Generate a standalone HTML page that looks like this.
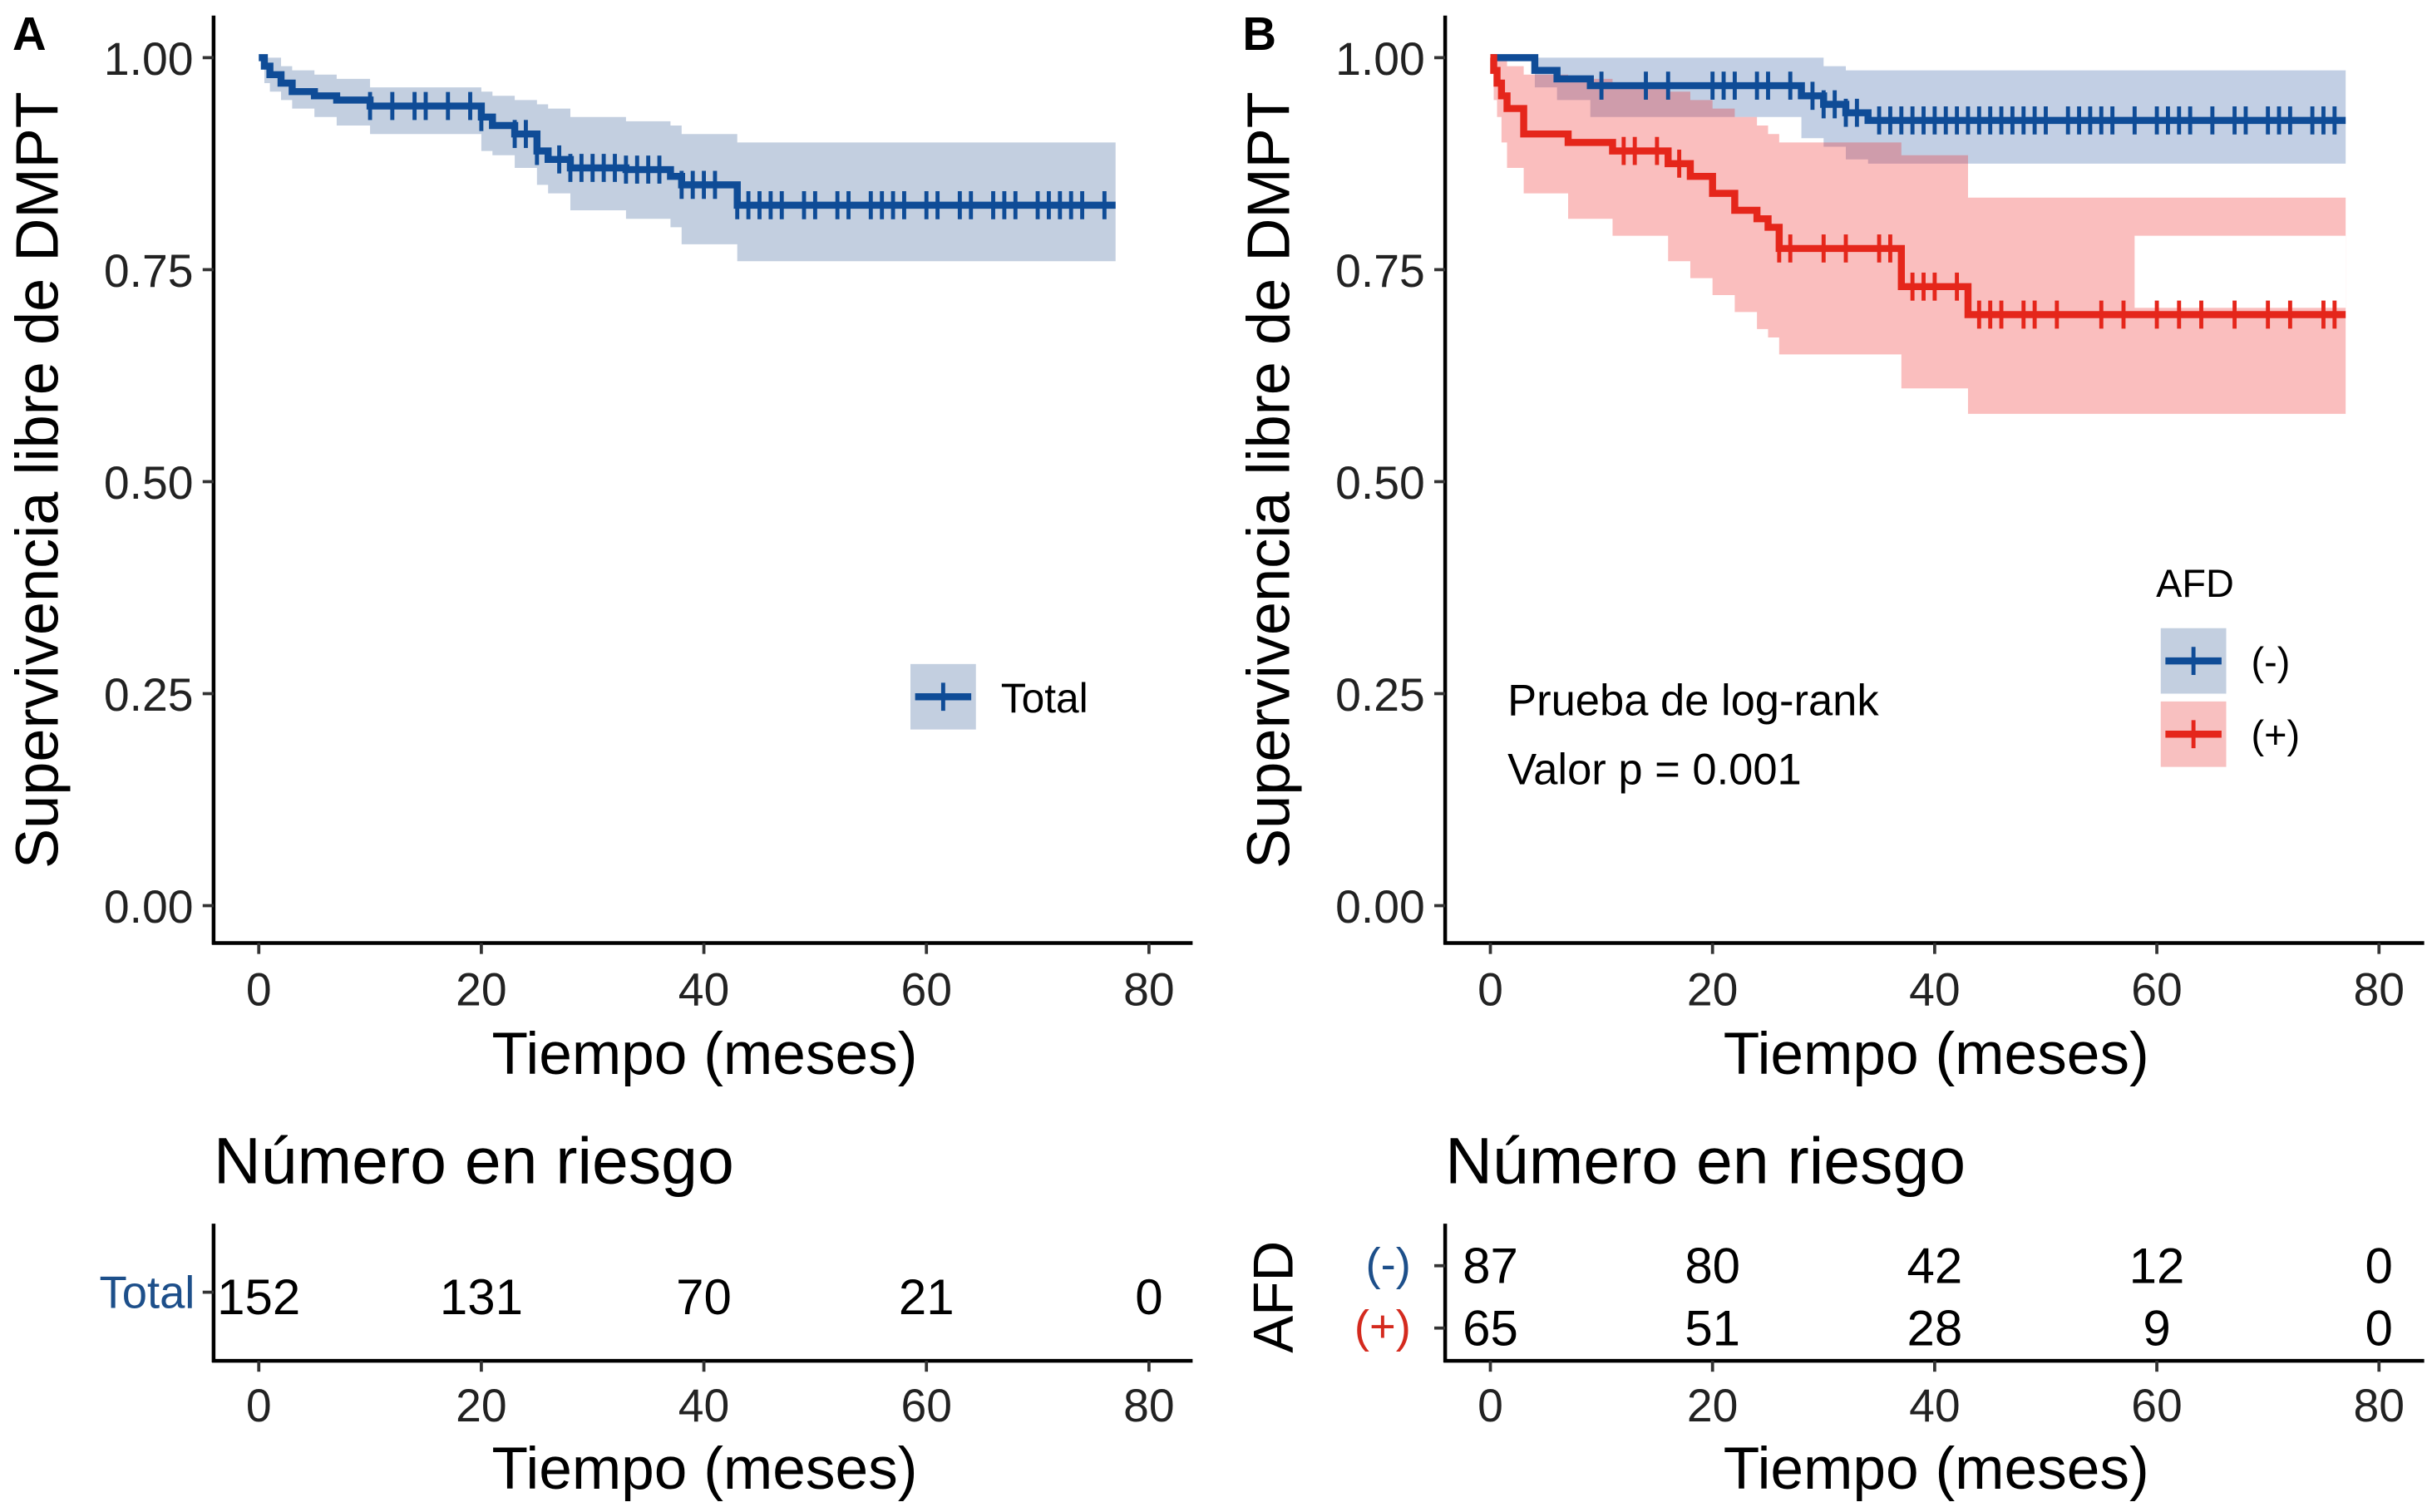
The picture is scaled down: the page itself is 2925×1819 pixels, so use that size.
<!DOCTYPE html>
<html><head><meta charset="utf-8"><style>
html,body{margin:0;padding:0;background:#fff}
svg{display:block}
text{font-family:"Liberation Sans",Arial,sans-serif}
</style></head><body>
<svg id="fig" width="2925" height="1819" viewBox="0 0 1560 970" preserveAspectRatio="none" xmlns="http://www.w3.org/2000/svg">
<g id="gA"></g>
<g id="gB"></g>
<g id="gT"></g>
</svg>
<script>
// ---- Panel A data ----
const tA = [0,0.5,1,2,3,5,7,10,20,21,23,25,26,28,33,37,38,43];
const sA = [1,0.99,0.98,0.97,0.96,0.955,0.95,0.943,0.93,0.92,0.91,0.89,0.88,0.87,0.868,0.86,0.85,0.826];
const uA = [1,1,1,0.99,0.985,0.98,0.975,0.965,0.96,0.955,0.95,0.945,0.94,0.93,0.925,0.92,0.91,0.90];
const lA = [1,0.97,0.96,0.95,0.94,0.93,0.92,0.91,0.89,0.885,0.87,0.85,0.84,0.82,0.81,0.80,0.78,0.76];
const endA = 77;
const cenA = [10,12,14,15,17,19,20,23,24,25,27,28,29,30,31,32,33,34,35,36,38,39,40,41,43,44,45,46,47,49,50,52,53,55,56,57,58,60,61,63,64,66,67,68,70,71,72,73,74,76];
// ---- Panel B data ----
const tBn = [0,4,6,9,28,30,32,34];
const sBn = [1,0.985,0.975,0.967,0.955,0.945,0.935,0.926];
const uBn = [1,1,1,1,1,0.99,0.985,0.985];
const lBn = [1,0.965,0.95,0.93,0.905,0.895,0.88,0.875];
const cenBn = [10,14,16,20,21,22,24,25,27,29,30,31,32,33,35,36,37,38,39,40,41,42,43,44,45,46,47,48,49,50,52,53,54,55,56,58,60,61,62,63,65,67,68,70,71,72,74,75,76];
const tBp = [0,0.3,0.6,1,1.5,3,7,11,16,18,20,22,24,25,26,37,43];
const sBp = [1,0.985,0.97,0.955,0.94,0.91,0.90,0.89,0.875,0.86,0.84,0.82,0.81,0.80,0.775,0.73,0.697];
const uBp = [1,1,1,1,0.99,0.98,0.975,0.97,0.96,0.95,0.94,0.93,0.92,0.91,0.90,0.885,0.835];
const lBp = [1,0.95,0.93,0.90,0.87,0.84,0.81,0.79,0.76,0.74,0.72,0.70,0.68,0.67,0.65,0.61,0.58];
const gapBp = [58,0.705,0.79]; // start time, lower, upper of unfilled gap
const cenBp = [12,13,15,17,26,27,30,32,35,36,38,39,40,42,44,45,46,48,49,51,55,57,60,62,64,67,70,72,75,76];
const endB = 77;
// ---- Risk tables ----
const riskTimes = [0,20,40,60,80];
const riskTotal = [152,131,70,21,0];
const riskNeg = [87,80,42,12,0];
const riskPos = [65,51,28,9,0];
const xTicks = [0,20,40,60,80];
const yTicks = [0,0.25,0.5,0.75,1];

const NS="http://www.w3.org/2000/svg";
function mk(parent,tag,attrs,txt){const e=document.createElementNS(NS,tag);for(const k in attrs)e.setAttribute(k,attrs[k]);if(txt!==undefined)e.textContent=txt;parent.appendChild(e);return e;}
const Y=v=>581-v*544;
const XA=t=>166+t*(737-166)/80;
const XB=t=>956+t*(1526-956)/80;
const BLUE="#0f4c97", RED="#e5261b";

function stepPath(X,t,s,end){let d=`M${X(t[0])},${Y(s[0])}`;for(let i=1;i<t.length;i++){d+=`H${X(t[i])}V${Y(s[i])}`;}d+=`H${X(end)}`;return d;}
function ribbon(X,t,u,l,end){let top=`M${X(t[0])},${Y(u[0])}`;for(let i=1;i<t.length;i++)top+=`H${X(t[i])}V${Y(u[i])}`;top+=`H${X(end)}V${Y(l[l.length-1])}`;for(let i=l.length-1;i>0;i--)top+=`H${X(t[i])}V${Y(l[i-1])}`;top+=`H${X(t[0])}Z`;return top;}
function survAt(t,s,x){let v=s[0];for(let i=0;i<t.length;i++)if(t[i]<=x)v=s[i];return v;}
function censors(g,X,t,s,c,col){c.forEach(x=>{const y=Y(survAt(t,s,x));const e=mk(g,'line',{x1:X(x),x2:X(x),y1:y-9,y2:y+9,stroke:col,'stroke-width':2.6});

});}

function axes(g,X,ox){
  const ya=mk(g,'line',{x1:ox,x2:ox,y1:10,y2:606,stroke:'#000','stroke-width':2.4});
  
  const xa=mk(g,'line',{x1:ox-1,x2:ox+628,y1:605,y2:605,stroke:'#000','stroke-width':2.4});
  
  yTicks.forEach(v=>{mk(g,'line',{x1:ox-7,x2:ox,y1:Y(v),y2:Y(v),stroke:'#333','stroke-width':2});
    const tl=mk(g,'text',{x:ox-13,y:Y(v)+11,'font-size':29.5,'text-anchor':'end',fill:'#222'},v.toFixed(2));
    });
  xTicks.forEach(v=>{mk(g,'line',{x1:X(v),x2:X(v),y1:605,y2:612,stroke:'#333','stroke-width':2});
    const tl=mk(g,'text',{x:X(v),y:645,'font-size':29.5,'text-anchor':'middle',fill:'#222'},v);
    });
  const xt=mk(g,'text',{x:ox+315,y:689,'font-size':38,'text-anchor':'middle'},'Tiempo (meses)');
  
  const yt=mk(g,'text',{x:0,y:0,'font-size':38.5,'text-anchor':'middle',transform:`translate(${ox-100},308) rotate(-90)`},'Supervivencia libre de DMPT');
  
}

// Panel A
const gA=document.getElementById('gA');
const rA=mk(gA,'path',{d:ribbon(XA,tA,uA,lA,endA),fill:'#c3cfe0'});

const pA=mk(gA,'path',{d:stepPath(XA,tA,sA,endA),fill:'none',stroke:BLUE,'stroke-width':4.5});

censors(gA,XA,tA,sA,cenA,BLUE);
axes(gA,XA,137);
mk(gA,'text',{x:8,y:32,'font-size':30,'font-weight':'bold'},'A');
mk(gA,'rect',{x:584,y:426,width:42,height:42,fill:'#c3cfe0',});
mk(gA,'line',{x1:587,x2:623,y1:447,y2:447,stroke:BLUE,'stroke-width':4.5});
mk(gA,'line',{x1:605,x2:605,y1:438,y2:456,stroke:BLUE,'stroke-width':2.6});
mk(gA,'text',{x:642,y:457,'font-size':26.5,},'Total');

// Panel B
const gB=document.getElementById('gB');
const rBn=mk(gB,'path',{d:ribbon(XB,tBn,uBn,lBn,endB),fill:'rgb(20,70,150)','fill-opacity':0.26});

const rBp=mk(gB,'path',{d:ribbon(XB,tBp,uBp,lBp,endB),fill:'rgb(240,40,40)','fill-opacity':0.3});

const gp=mk(gB,'rect',{x:XB(gapBp[0]),y:Y(gapBp[2]),width:XB(endB)-XB(gapBp[0]),height:Y(gapBp[1])-Y(gapBp[2]),fill:'#fff'});

const pBn=mk(gB,'path',{d:stepPath(XB,tBn,sBn,endB),fill:'none',stroke:BLUE,'stroke-width':4.5});

const pBp=mk(gB,'path',{d:stepPath(XB,tBp,sBp,endB),fill:'none',stroke:RED,'stroke-width':4.5});

censors(gB,XB,tBn,sBn,cenBn,BLUE);
censors(gB,XB,tBp,sBp,cenBp,RED);
axes(gB,XB,927);
mk(gB,'text',{x:797,y:32,'font-size':30,'font-weight':'bold'},'B');
mk(gB,'text',{x:967,y:459,'font-size':28,},'Prueba de log-rank');
mk(gB,'text',{x:967,y:503,'font-size':28,},'Valor p = 0.001');
mk(gB,'text',{x:1383,y:383,'font-size':25,},'AFD');
mk(gB,'rect',{x:1386,y:403,width:42,height:42,fill:'#c3cfe0',});
mk(gB,'line',{x1:1389,x2:1425,y1:424,y2:424,stroke:BLUE,'stroke-width':4.5});
mk(gB,'line',{x1:1407,x2:1407,y1:415,y2:433,stroke:BLUE,'stroke-width':2.6});
mk(gB,'rect',{x:1386,y:450,width:42,height:42,fill:'#f8c0c0',});
mk(gB,'line',{x1:1389,x2:1425,y1:471,y2:471,stroke:RED,'stroke-width':4.5});
mk(gB,'line',{x1:1407,x2:1407,y1:462,y2:480,stroke:RED,'stroke-width':2.6});
mk(gB,'text',{x:1444,y:433,'font-size':25,},'(-)');
mk(gB,'text',{x:1444,y:480,'font-size':25,},'(+)');

// Risk tables
const gT=document.getElementById('gT');
function riskAxes(X,ox){
  mk(gT,'text',{x:ox,y:759,'font-size':42,},'Número en riesgo');
  mk(gT,'line',{x1:ox,x2:ox,y1:785,y2:874,stroke:'#000','stroke-width':2.4,});
  mk(gT,'line',{x1:ox-1,x2:ox+628,y1:873,y2:873,stroke:'#000','stroke-width':2.4,});
  xTicks.forEach(v=>{mk(gT,'line',{x1:X(v),x2:X(v),y1:873,y2:880,stroke:'#333','stroke-width':2});
    const t=mk(gT,'text',{x:X(v),y:912,'font-size':29.5,'text-anchor':'middle',fill:'#222'},v);
    });
  mk(gT,'text',{x:ox+315,y:955,'font-size':38,'text-anchor':'middle',},'Tiempo (meses)');
}
riskAxes(XA,137);
riskAxes(XB,927);
mk(gT,'line',{x1:130,x2:137,y1:829,y2:829,stroke:'#333','stroke-width':2});
mk(gT,'text',{x:125,y:839,'font-size':29,'text-anchor':'end',fill:'#1d4f8a',},'Total');
riskTimes.forEach((t,i)=>{const e=mk(gT,'text',{x:XA(t),y:843,'font-size':32,'text-anchor':'middle'},riskTotal[i]);
});
mk(gT,'line',{x1:920,x2:927,y1:812,y2:812,stroke:'#333','stroke-width':2});
mk(gT,'line',{x1:920,x2:927,y1:852,y2:852,stroke:'#333','stroke-width':2});
mk(gT,'text',{x:905,y:821,'font-size':29,'text-anchor':'end',fill:'#1d4f8a',},'(-)');
mk(gT,'text',{x:905,y:861,'font-size':29,'text-anchor':'end',fill:'#d42a1e',},'(+)');
mk(gT,'text',{x:0,y:0,'font-size':36,'text-anchor':'middle',transform:'translate(829,832) rotate(-90)',},'AFD');
riskTimes.forEach((t,i)=>{const e=mk(gT,'text',{x:XB(t),y:823,'font-size':32,'text-anchor':'middle'},riskNeg[i]);

const f=mk(gT,'text',{x:XB(t),y:863,'font-size':32,'text-anchor':'middle'},riskPos[i]);
});
</script>
</body></html>
